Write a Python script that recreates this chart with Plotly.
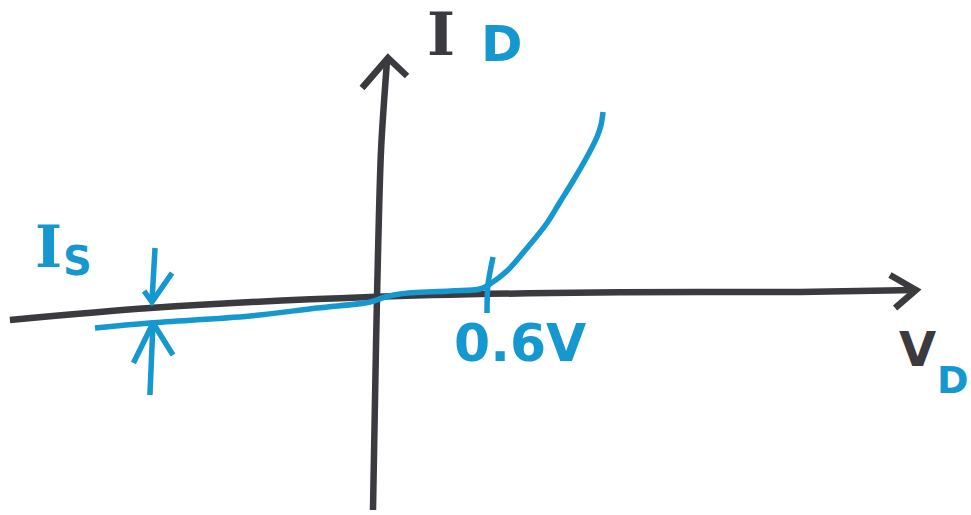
import plotly.graph_objects as go

# Diode I-V characteristic, sketch style.  Voltages in V, currents in mA.
curve_v = [-1.530, -1.230, -0.683, -0.317, -0.027, 0.055, 0.137, 0.410, 0.574,
           0.628, 0.721, 0.831, 0.940, 1.011, 1.082, 1.158, 1.213, 1.235, 1.246]
curve_i = [-1.55, -1.30, -0.95, -0.55, -0.25, 0.00, 0.15, 0.30, 0.40,
           0.65, 1.30, 2.45, 3.70, 4.75, 5.80, 7.00, 8.00, 8.60, 9.25]

# Hand-drawn axes (slightly wobbly lines with arrowheads)
vd_axis_v = [-1.995, -1.230, -0.027, 0.956, 1.776, 2.322, 2.956]
vd_axis_i = [-1.15, -0.55, 0.0, 0.20, 0.25, 0.25, 0.35]
vd_head_v = [2.814, 2.956, 2.842]
vd_head_i = [1.10, 0.35, -0.55]

id_axis_v = [-0.011, 0.000, 0.011, 0.033, 0.066]
id_axis_i = [-10.65, -5.15, 0.0, 7.35, 11.85]
id_head_v = [-0.071, 0.071, 0.175]
id_head_i = [10.45, 11.95, 11.05]

# Knee marker at 0.6 V
knee_v = [0.645, 0.617, 0.612]
knee_i = [2.00, 0.60, -0.80]

# Saturation current dimension arrows
is_down_v = [-1.202, -1.219]
is_down_i = [2.45, -0.25]
is_down_head_v = [-1.262, -1.219, -1.109]
is_down_head_i = [0.30, -0.25, 1.20]
is_up_v = [-1.230, -1.213]
is_up_i = [-4.90, -1.30]
is_up_head_v = [-1.320, -1.213, -1.104]
is_up_head_i = [-3.30, -1.30, -2.90]

DARK = "#3a3a3f"
BLUE = "#1597cf"

fig = go.Figure()


def stroke(xs, ys, color, width, smooth=0.0):
    line = dict(color=color, width=width)
    if smooth:
        line.update(shape="spline", smoothing=smooth)
    fig.add_trace(go.Scatter(
        x=xs, y=ys, mode="lines", line=line,
        hoverinfo="skip", showlegend=False,
    ))


stroke(vd_axis_v, vd_axis_i, DARK, 6.5, 0.8)
stroke(vd_head_v, vd_head_i, DARK, 6.5)
stroke(id_axis_v, id_axis_i, DARK, 6.5, 0.8)
stroke(id_head_v, id_head_i, DARK, 6.5)
stroke(curve_v, curve_i, BLUE, 5.5, 1.0)
stroke(knee_v, knee_i, BLUE, 5.5, 0.8)
stroke(is_down_v, is_down_i, BLUE, 5.5)
stroke(is_down_head_v, is_down_head_i, BLUE, 5.5)
stroke(is_up_v, is_up_i, BLUE, 5.5)
stroke(is_up_head_v, is_up_head_i, BLUE, 5.5)

W, H = 971, 515


def label(text, px, py, size, color, family="DejaVu Sans"):
    fig.add_annotation(
        x=px / W, y=1 - py / H, xref="paper", yref="paper",
        text=f"<b>{text}</b>", showarrow=False,
        font=dict(family=family, size=size, color=color),
        xanchor="center", yanchor="middle",
    )


label("I", 441, 34, 60, DARK, "DejaVu Serif")
label("D", 502, 44, 50, BLUE)
label("I", 48, 247, 58, BLUE, "DejaVu Serif")
label("S", 77, 261, 40, BLUE)
label("V", 917, 349, 48, DARK)
label("D", 953, 380, 38, BLUE)
label("0.6V", 520, 343, 52, BLUE)

fig.update_layout(
    width=W, height=H,
    margin=dict(l=0, r=0, t=0, b=0),
    paper_bgcolor="white", plot_bgcolor="white",
    xaxis=dict(range=[-375 / 183, 596 / 183], visible=False, fixedrange=True),
    yaxis=dict(range=[(297 - 515) / 20, 297 / 20], visible=False, fixedrange=True),
    showlegend=False,
)

fig.write_html("out.html")
